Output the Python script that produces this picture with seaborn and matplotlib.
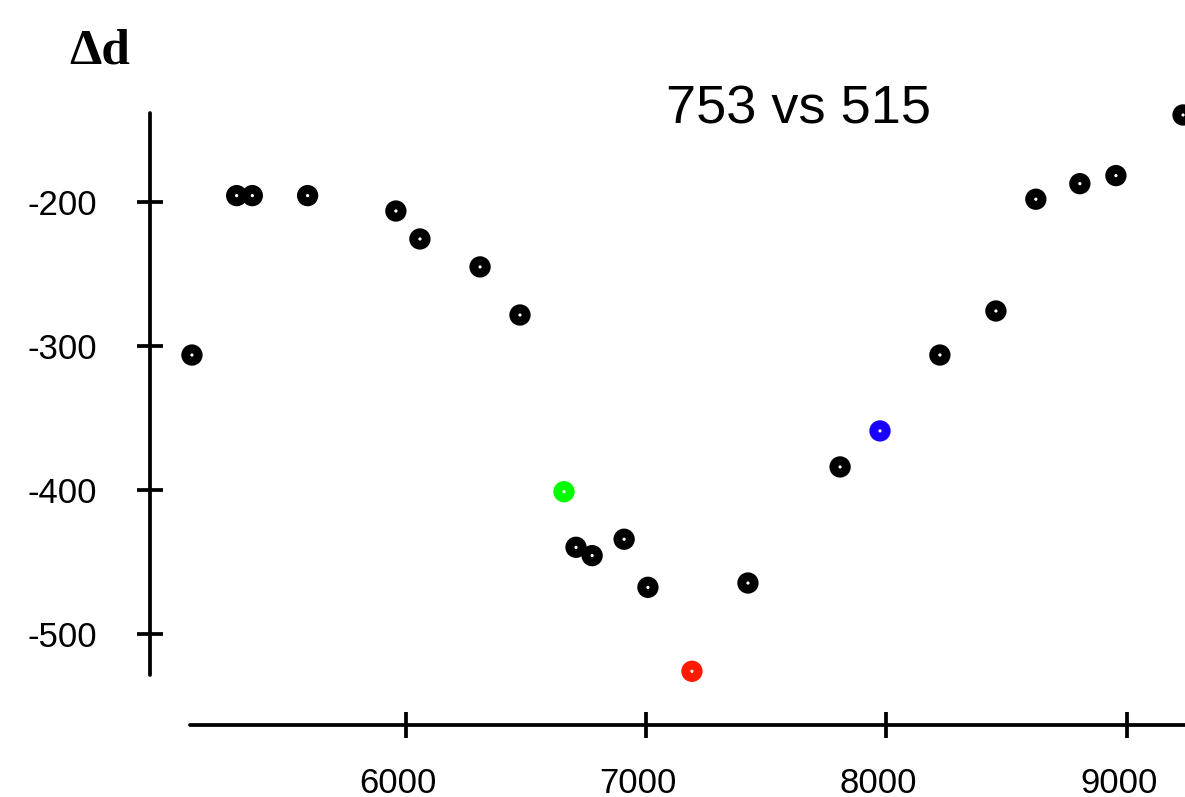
import matplotlib
matplotlib.use('Agg')
import matplotlib.pyplot as plt
import matplotlib.transforms as mtransforms
import pandas as pd
import seaborn as sns

# ----- data -----
wavelength = [5112, 5298, 5363, 5593, 5960, 6060, 6310, 6476, 6659, 6709, 6776, 6909,
              7008, 7191, 7424, 7807, 7973, 8222, 8455, 8621, 8804, 8954, 9233]
delta_d = [-306.5, -195.8, -195.8, -195.8, -206.5, -225.9, -245.3, -278.7, -401.4, -440.0,
           -445.8, -434.4, -467.8, -526.1, -464.8, -384.2, -359.2, -306.5, -275.9, -198.3,
           -187.5, -181.9, -139.8]
group = ['base'] * 8 + ['green'] + ['base'] * 4 + ['red'] + ['base'] * 2 + ['blue'] + ['base'] * 6
palette = {'base': 'black', 'green': '#00ff00', 'red': '#ff1a00', 'blue': '#1a00ff'}

xticks = [6000, 7000, 8000, 9000]
yticks = [-500, -400, -300, -200]

df = pd.DataFrame({'wavelength': wavelength, 'delta_d': delta_d, 'group': group})

sns.set_style('white')
plt.rcParams['font.family'] = ['Liberation Sans', 'DejaVu Sans']
plt.rcParams['axes.unicode_minus'] = False
plt.rcParams['text.color'] = 'black'

fig = plt.figure(figsize=(11.85, 7.97), dpi=100)
ax = fig.add_axes([150 / 1185, 72 / 797, 1035 / 1185, 625 / 797])

sns.scatterplot(data=df, x='wavelength', y='delta_d', hue='group', palette=palette,
                marker='o', legend=False, ax=ax, clip_on=False, zorder=3)
# white face with thick coloured ring
for coll in ax.collections:
    coll.set_edgecolors([palette[g] for g in group])
    coll.set_facecolors('white')
    coll.set_sizes([80])
    coll.set_linewidths(6.4)

ax.set_xlim(4937.6, 9241.2)
ax.set_ylim(-563.4, -129.4)
ax.set_xticks(xticks)
ax.set_yticks(yticks)
ax.set_xlabel('')
ax.set_ylabel('')

for side in ['top', 'right']:
    ax.spines[side].set_visible(False)
for side in ['left', 'bottom']:
    ax.spines[side].set_linewidth(2.7)
    ax.spines[side].set_color('black')
    ax.spines[side].set_capstyle('round')
ax.spines['left'].set_bounds(-528.7, -138.4)
ax.spines['bottom'].set_bounds(5104, 9241.2)

ax.tick_params(axis='both', direction='inout', length=18.7, width=2.7, colors='black',
               labelsize=25, bottom=True, left=True)
ax.tick_params(axis='y', pad=28.5)
ax.tick_params(axis='x', pad=21)

offset = mtransforms.ScaledTranslation(-8 / 100, 0, fig.dpi_scale_trans)
for lab in ax.get_xticklabels():
    lab.set_transform(lab.get_transform() + offset)

fig.text(798.5 / 1185, 1 - 109 / 797, '753 vs 515', ha='center', va='center', fontsize=39,
         color='black')
fig.text(100 / 1185, 1 - 52 / 797, 'Δd', ha='center', va='center', fontsize=37,
         fontweight='bold', color='black', family=['Liberation Serif', 'DejaVu Serif'])

fig.savefig('out.png', dpi=100)
